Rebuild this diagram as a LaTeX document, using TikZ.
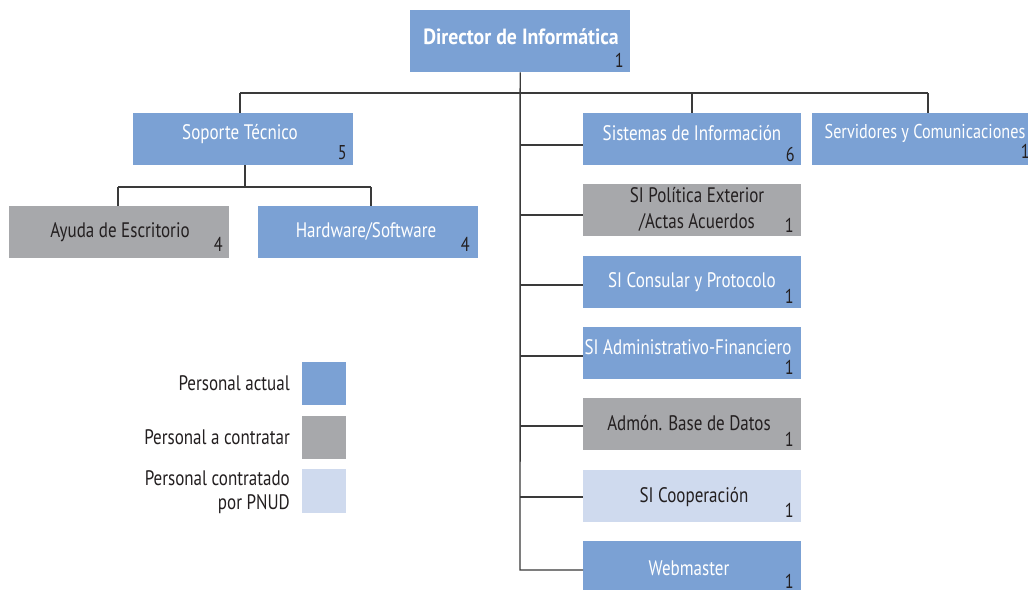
\documentclass[tikz,border=0pt]{standalone}
\usepackage{fontspec}
\setmainfont{PT Sans}[FakeStretch=0.81]
\newfontfamily\dirfont{PT Sans}[FakeStretch=0.9]
\definecolor{cblue}{HTML}{7BA1D4}
\definecolor{cgray}{HTML}{A7A8AB}
\definecolor{clight}{HTML}{CFDAEE}
\definecolor{ctext}{HTML}{231F20}
\definecolor{cline}{HTML}{3A3A3A}
\tikzset{
  bx/.style={minimum width=#1, minimum height=52pt, inner sep=0pt, draw=none, anchor=north west},
  bx/.default=218pt,
  wt/.style={text=white, font=\fontsize{21}{23}\selectfont, inner sep=0pt, align=center},
  dt/.style={text=ctext, font=\fontsize{21}{23}\selectfont, inner sep=0pt, align=center},
  num/.style={text=ctext, font=\fontsize{20}{22}\selectfont, inner sep=0pt, anchor=base east},
  lt/.style={text=ctext, font=\fontsize{21}{24}\selectfont, inner sep=0pt, align=right, anchor=east},
  conn/.style={draw=cline, line width=1.4pt},
}
\begin{document}
\begin{tikzpicture}[x=1pt,y=-1pt]
\clip (0,0) rectangle (1028,589);
\fill[white] (0,0) rectangle (1028,589);
\coordinate (trunkBot) at (520,570);
\coordinate (hL) at (240,93);
\coordinate (hR) at (928,93);
\coordinate (hM) at (692,93);
% boxes
\node[bx=220pt, minimum height=62pt, fill=cblue] (dir) at (410,10) {};
\node[bx=220pt, fill=cblue] (sop) at (133,113) {};
\node[bx=220pt, fill=cgray] (ayu) at (9,206) {};
\node[bx=220pt, fill=cblue] (hw) at (258,206) {};
\node[bx, fill=cblue] (sis) at (583,113) {};
\node[bx=240pt, fill=cblue] (ser) at (812,113) {};
\node[bx, fill=cgray] (pol) at (583,184) {};
\node[bx, fill=cblue] (con) at (583,256) {};
\node[bx, fill=cblue] (adm) at (583,327) {};
\node[bx, fill=cgray] (bd) at (583,398) {};
\node[bx, fill=clight] (coo) at (583,470) {};
\node[bx, minimum height=60pt, fill=cblue] (web) at (583,541) {};
% lines
\draw[conn] (dir.south) -- (trunkBot) -- (web.west |- trunkBot);
\draw[conn] (hL) -- (hR);
\draw[conn] (hL) -- (hL |- sop.north);
\draw[conn] (hM) -- (hM |- sis.north);
\draw[conn] (hR) -- (hR |- ser.north);
\draw[conn] (520,145) -- (sis.west |- 0,145);
\draw[conn] (520,215) -- (pol.west |- 0,215);
\draw[conn] (520,285) -- (con.west |- 0,285);
\draw[conn] (520,356) -- (adm.west |- 0,356);
\draw[conn] (520,426) -- (bd.west |- 0,426);
\draw[conn] (520,497) -- (coo.west |- 0,497);
\coordinate (sopJ) at (245,187);
\draw[conn] (sop.south -| sopJ) -- (sopJ);
\draw[conn] (118,187) -- (371,187);
\draw[conn] (118,187) -- (ayu.north -| 118,0);
\draw[conn] (371,187) -- (hw.north -| 371,0);
% texts
\node[wt, font=\fontsize{22}{24}\dirfont\bfseries\selectfont] (dirT) at (521,37) {Director de Informática};
\node[num] (dirN) at (624,67) {1};
\node[wt] (sopT) at (240,134) {Soporte Técnico};
\node[num] (sopN) at (347,159) {5};
\node[dt] (ayuT) at (120,232) {Ayuda de Escritorio};
\node[num] (ayuN) at (223,251) {4};
\node[wt] (hwT) at (366,231) {Hardware/Software};
\node[num] (hwN) at (470,251) {4};
\node[wt] (sisT) at (692,133) {Sistemas de Información};
\node[num] (sisN) at (795,161) {6};
\node[wt, font=\fontsize{20}{22}\selectfont] (serT) at (925,133) {Servidores y Comunicaciones};
\node[num] (serN) at (1030,158) {1};
\node[dt, font=\fontsize{21}{26}\selectfont] (polT) at (697,209) {SI Política Exterior\\/Actas Acuerdos};
\node[num] (polN) at (794,232) {1};
\node[wt] (conT) at (692,282) {SI Consular y Protocolo};
\node[num] (conN) at (794,303) {1};
\node[wt] (admT) at (688,347) {SI Administrativo-Financiero};
\node[num] (admN) at (794,374) {1};
\node[dt] (bdT) at (689,423) {Admón. Base de Datos};
\node[num] (bdN) at (794,446) {1};
\node[dt] (cooT) at (694,497) {SI Cooperación};
\node[num] (cooN) at (794,517) {1};
\node[wt] (webT) at (689,568) {Webmaster};
\node[num] (webN) at (794,588) {1};
% legend
\node[bx=44pt, minimum height=43pt, fill=cblue] (lg1) at (302,362) {};
\node[bx=44pt, minimum height=43pt, fill=cgray] (lg2) at (302,416) {};
\node[bx=44pt, minimum height=44pt, fill=clight] (lg3) at (302,469) {};
\node[lt] (lg1T) at (290,383) {Personal actual};
\node[lt] (lg2T) at (290,437) {Personal a contratar};
\node[lt] (lg3T) at (290,492) {Personal contratado\\por PNUD};
\end{tikzpicture}
\end{document}
